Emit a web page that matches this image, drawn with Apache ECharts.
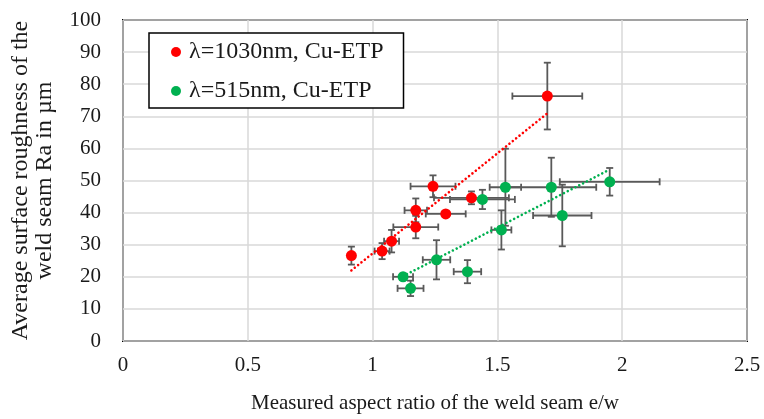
<!DOCTYPE html>
<html><head><meta charset="utf-8">
<script src="https://cdn.jsdelivr.net/npm/echarts@6/dist/echarts.min.js"></script>
<style>html,body{margin:0;padding:0;background:#fff}#c{width:764px;height:419px}</style>
</head><body><div id="c"></div>
<script>
// ---- data ----
const xTickLabels = ['0', '0.5', '1', '1.5', '2', '2.5'];
const yTickLabels = ['0','10','20','30','40','50','60','70','80','90','100'];

const redName = 'λ=1030nm, Cu-ETP';
const redX    = [0.915, 1.038, 1.076, 1.173, 1.173, 1.242, 1.293, 1.396, 1.70];
const redY    = [26.6, 28.0, 31.1, 35.5, 40.7, 48.2, 39.6, 44.6, 76.3];
const redXErr = [0, 0.03, 0.03, 0.09, 0.045, 0.09, 0.08, 0.15, 0.14];
const redYErr = [2.8, 2.5, 3.5, 3.5, 3.7, 3.4, 0, 2.0, 10.4];

const greenName = 'λ=515nm, Cu-ETP';
const greenX    = [1.122, 1.152, 1.256, 1.38, 1.44, 1.516, 1.532, 1.716, 1.76, 1.95];
const greenY    = [20.0, 16.4, 25.3, 21.6, 44.1, 34.6, 47.9, 47.9, 39.1, 49.6];
const greenXErr = [0.04, 0.052, 0.055, 0.055, 0.13, 0.04, 0.063, 0.18, 0.117, 0.2];
const greenYErr = [1.0, 2.4, 6.1, 3.6, 3.0, 6.1, 12.0, 9.2, 9.6, 4.3];

const xTitle = 'Measured aspect ratio of the weld seam e/w';
const yTitle = 'Average surface roughness of the\nweld seam Ra in µm';

// ---- helpers ----
function pts(xs, ys) { return xs.map((x, i) => [x, ys[i]]); }
function errData(xs, ys, xe, ye) { return xs.map((x, i) => [x, ys[i], xe[i], ye[i]]); }
function trend(xs, ys) {
  const n = xs.length;
  const mx = xs.reduce((a, b) => a + b, 0) / n;
  const my = ys.reduce((a, b) => a + b, 0) / n;
  let sxy = 0, sxx = 0;
  for (let i = 0; i < n; i++) { sxy += (xs[i] - mx) * (ys[i] - my); sxx += (xs[i] - mx) ** 2; }
  const b = sxy / sxx, a = my - b * mx;
  const x0 = Math.min(...xs), x1 = Math.max(...xs);
  return [[x0, a + b * x0], [x1, a + b * x1]];
}
const CAP = 3.5, EB = '#595959';
function renderErr(params, api) {
  const x = api.value(0), y = api.value(1), xe = api.value(2), ye = api.value(3);
  const children = [];
  const st = { stroke: EB, lineWidth: 1.8 };
  if (xe > 0) {
    const l = api.coord([x - xe, y]), r = api.coord([x + xe, y]);
    children.push({ type: 'line', shape: { x1: l[0], y1: l[1], x2: r[0], y2: r[1] }, style: st });
    children.push({ type: 'line', shape: { x1: l[0], y1: l[1] - CAP, x2: l[0], y2: l[1] + CAP }, style: st });
    children.push({ type: 'line', shape: { x1: r[0], y1: r[1] - CAP, x2: r[0], y2: r[1] + CAP }, style: st });
  }
  if (ye > 0) {
    const t = api.coord([x, y + ye]), b = api.coord([x, y - ye]);
    children.push({ type: 'line', shape: { x1: t[0], y1: t[1], x2: b[0], y2: b[1] }, style: st });
    children.push({ type: 'line', shape: { x1: t[0] - CAP, y1: t[1], x2: t[0] + CAP, y2: t[1] }, style: st });
    children.push({ type: 'line', shape: { x1: b[0] - CAP, y1: b[1], x2: b[0] + CAP, y2: b[1] }, style: st });
  }
  return { type: 'group', children };
}

const FONT = '"Liberation Serif", "Times New Roman", serif';
const RED = '#FF0000', GREEN = '#00B050';

const chart = echarts.init(document.getElementById('c'), null, { renderer: 'canvas' });
chart.setOption({
  animation: false,
  backgroundColor: '#fff',
  textStyle: { fontFamily: FONT },
  grid: { left: 123, right: 17, top: 20, bottom: 76, show: true, borderColor: '#000', borderWidth: 2 },
  legend: {
    data: [redName, greenName],
    orient: 'vertical',
    left: 149, top: 33,
    padding: [7, 20, 5, 22],
    itemGap: 15,
    itemWidth: 10, itemHeight: 10,
    icon: 'circle',
    borderColor: '#000', borderWidth: 1.5, backgroundColor: '#fff',
    textStyle: { fontFamily: FONT, fontSize: 24, color: '#1a1a1a', lineHeight: 24, padding: [0, 0, 0, 3] }
  },
  xAxis: {
    type: 'value', min: 0, max: 2.5, interval: 0.5,
    axisLine: { show: false }, axisTick: { show: false },
    axisLabel: { fontFamily: FONT, fontSize: 21, color: '#1a1a1a', margin: 14,
      formatter: v => xTickLabels[Math.round(v / 0.5)] },
    splitLine: { lineStyle: { color: '#D9D9D9', width: 1.5 } },
    name: xTitle, nameLocation: 'middle', nameGap: 52,
    nameTextStyle: { fontFamily: FONT, fontSize: 21, color: '#1a1a1a' }
  },
  yAxis: {
    type: 'value', min: 0, max: 100, interval: 10,
    axisLine: { show: false }, axisTick: { show: false },
    axisLabel: { fontFamily: FONT, fontSize: 21, color: '#1a1a1a', margin: 22,
      formatter: v => yTickLabels[Math.round(v / 10)] },
    splitLine: { lineStyle: { color: '#D9D9D9', width: 1.5 } },
    name: yTitle, nameLocation: 'middle', nameGap: 66,
    nameTextStyle: { fontFamily: FONT, fontSize: 24, color: '#1a1a1a', lineHeight: 24, align: 'center' }
  },
  series: [
    { type: 'custom', renderItem: renderErr, data: errData(redX, redY, redXErr, redYErr), z: 2, silent: true },
    { type: 'custom', renderItem: renderErr, data: errData(greenX, greenY, greenXErr, greenYErr), z: 2, silent: true },
    { type: 'line', data: trend(redX, redY), symbol: 'none', z: 3, silent: true,
      lineStyle: { color: RED, width: 2.6, type: [0.01, 4.3], cap: 'round' } },
    { type: 'line', data: trend(greenX, greenY), symbol: 'none', z: 3, silent: true,
      lineStyle: { color: GREEN, width: 2.6, type: [0.01, 4.3], cap: 'round' } },
    { name: redName, type: 'scatter', data: pts(redX, redY), symbol: 'circle', symbolSize: 11,
      itemStyle: { color: RED, opacity: 1 }, z: 4 },
    { name: greenName, type: 'scatter', data: pts(greenX, greenY), symbol: 'circle', symbolSize: 11,
      itemStyle: { color: GREEN, opacity: 1 }, z: 4 }
  ]
});
</script>
</body></html>
